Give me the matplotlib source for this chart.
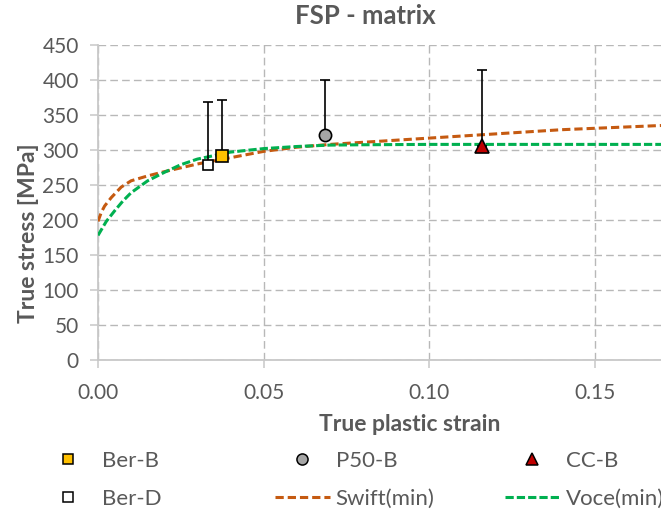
import matplotlib
matplotlib.use("Agg")
import matplotlib.pyplot as plt
from matplotlib.lines import Line2D

plt.rcParams['font.family'] = ['Lato', 'DejaVu Sans']

# Experimental points
ber_b_x, ber_b_y, ber_b_err = [0.0373], [292], [80]
ber_d_x, ber_d_y, ber_d_err = [0.0331], [278], [90]
p50_x, p50_y, p50_err = [0.0684], [321], [79]
cc_x, cc_y, cc_err = [0.1159], [306], [108]

# Swift(min) curve
swift_x = [0.0, 0.001, 0.002, 0.004, 0.007, 0.01, 0.015, 0.02, 0.03, 0.04, 0.05,
           0.06, 0.07, 0.08, 0.09, 0.10, 0.11, 0.12, 0.13, 0.14, 0.15, 0.16, 0.17]
swift_y = [198, 211, 220, 232, 247, 256, 263, 269, 280, 289, 298,
           304, 308, 311, 314, 317, 320, 323, 326, 329, 331, 333, 335]

# Voce(min) curve
voce_x = [0.0, 0.0025, 0.005, 0.0075, 0.01, 0.015, 0.02, 0.025, 0.03, 0.04,
          0.05, 0.06, 0.07, 0.08, 0.10, 0.12, 0.14, 0.17]
voce_y = [178, 198, 213, 227, 239, 256, 268, 279, 287, 297,
          302, 305, 307, 307.5, 308, 308, 308, 308]

xticks = [0.0, 0.05, 0.10, 0.15]
xticklabels = ["0.00", "0.05", "0.10", "0.15"]
yticks = [0, 50, 100, 150, 200, 250, 300, 350, 400, 450]

txt = '#595959'
grid_c = '#B8B8B8'
swift_c = '#C55A11'
voce_c = '#00B050'

W, H = 661, 512
fig = plt.figure(figsize=(W/100, H/100), dpi=100)
ax = fig.add_axes([98/W, 1-360/H, 1-98/W, (360-45)/H])

ax.plot(swift_x, swift_y, color=swift_c, lw=2.2, dashes=(2.7, 1.3), zorder=3)
ax.plot(voce_x, voce_y, color=voce_c, lw=2.2, dashes=(2.7, 1.0), zorder=3)

eb = dict(fmt='none', ecolor='black', elinewidth=1.2, capsize=3.8, capthick=1.2, zorder=4)
ax.errorbar(ber_d_x, ber_d_y, yerr=[[0], ber_d_err], **eb)
ax.errorbar(ber_b_x, ber_b_y, yerr=[[0], ber_b_err], **eb)
ax.errorbar(p50_x, p50_y, yerr=[[0], p50_err], **eb)
ax.errorbar(cc_x, cc_y, yerr=[[0], cc_err], **eb)

ax.plot(ber_d_x, ber_d_y, 's', ms=7.0, mfc='white', mec='black', mew=1.2, zorder=5)
ax.plot(ber_b_x, ber_b_y, 's', ms=8.3, mfc='#FFC000', mec='black', mew=1.2, zorder=5)
ax.plot(p50_x, p50_y, 'o', ms=8.8, mfc='#A6A6A6', mec='black', mew=1.2, zorder=5)
ax.plot(cc_x, cc_y, '^', ms=9.6, mfc='#C00000', mec='black', mew=1.2, zorder=5)

ax.set_xlim(0, 0.17)
ax.set_ylim(0, 450)
ax.set_xticks(xticks)
ax.set_xticklabels(xticklabels)
ax.set_yticks(yticks)
ax.grid(True, color=grid_c, ls=(0, (5.5, 3)), lw=1.0)
ax.set_axisbelow(True)
for s in ['top', 'right']:
    ax.spines[s].set_visible(False)
for s in ['left', 'bottom']:
    ax.spines[s].set_color('#C8C8C8')
    ax.spines[s].set_linewidth(1.3)
ax.tick_params(colors='#C8C8C8', labelcolor=txt, labelsize=15, length=5.8, width=1.1)
ax.tick_params(axis='y', pad=8)
ax.tick_params(axis='x', pad=11)

fig.text(365/W, 1-16/H, 'FSP - matrix', fontsize=18.5, fontweight='bold', color=txt,
         ha='center', va='center')
ax.set_xlabel('True plastic strain', fontsize=16.5, fontweight='bold', color=txt)
ax.xaxis.set_label_coords((409.5-98)/(W-98), -(414-360)/315)
ax.set_ylabel('True stress [MPa]', fontsize=16.5, fontweight='bold', color=txt)
ax.yaxis.set_label_coords(-(98-39)/(W-98), (360-233)/315)

entries = [
    (Line2D([], [], ls='none', marker='s', ms=7.2, mfc='#FFC000', mec='black', mew=1.1), 'Ber-B', 40.5, 461),
    (Line2D([], [], ls='none', marker='s', ms=6.5, mfc='white', mec='black', mew=1.1), 'Ber-D', 40.5, 499),
    (Line2D([], [], ls='none', marker='o', ms=8.0, mfc='#A6A6A6', mec='black', mew=1.1), 'P50-B', 274.5, 461),
    (Line2D([], [], color=swift_c, lw=2.2, dashes=(2.7, 1.3)), 'Swift(min)', 274.5, 499),
    (Line2D([], [], ls='none', marker='^', ms=9.0, mfc='#C00000', mec='black', mew=1.1), 'CC-B', 504.5, 461),
    (Line2D([], [], color=voce_c, lw=2.2, dashes=(2.7, 1.0)), 'Voce(min)', 504.5, 499),
]
for h, lab, lx, ly in entries:
    lg = fig.legend([h], [lab], loc='center left', bbox_to_anchor=(lx/W, 1-ly/H),
                    frameon=False, fontsize=16, labelcolor=txt, handlelength=2.5,
                    handletextpad=0.25, borderpad=0, borderaxespad=0)

fig.savefig('out.png', dpi=100)
